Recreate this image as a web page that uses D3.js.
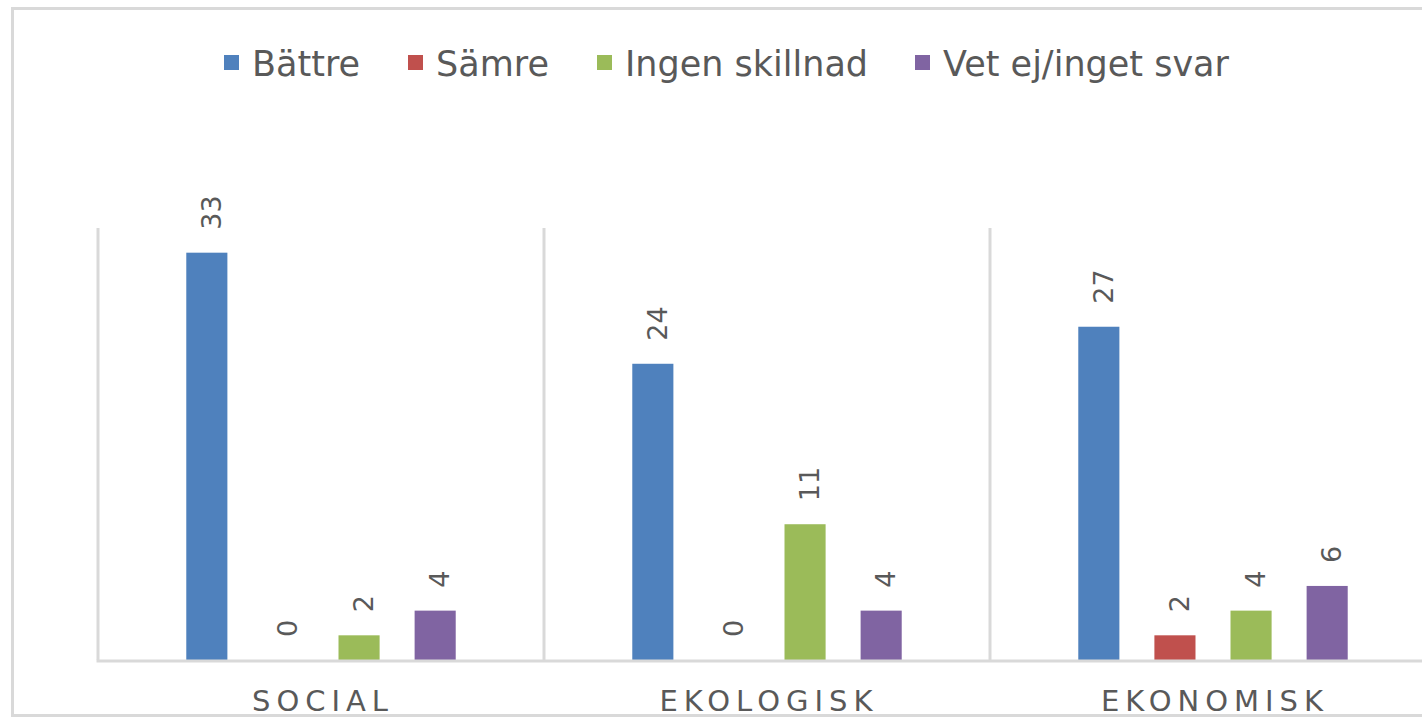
<!DOCTYPE html>
<html>
<head>
<meta charset="utf-8">
<script src="https://cdn.jsdelivr.net/npm/d3@7"></script>
<style>
  body { margin: 0; background: #fff; }
  svg { display: block; font-family: "DejaVu Sans", Verdana, sans-serif; }
</style>
</head>
<body>
<svg id="chart" width="1422" height="718"></svg>
<script>
// data
const categories = ['SOCIAL', 'EKOLOGISK', 'EKONOMISK'];
const seriesNames = ['Bättre', 'Sämre', 'Ingen skillnad', 'Vet ej/inget svar'];
const seriesColors = ['#4f81bd', '#c0504d', '#9bbb59', '#8064a2'];
const battre = [33, 24, 27];
const samre = [0, 0, 2];
const ingen = [2, 11, 4];
const vetEj = [4, 4, 6];
const seriesValues = [battre, samre, ingen, vetEj];

const svg = d3.select('#chart');
const gridColor = '#d9d9d9';
const textColor = '#595959';

// chart frame (runs off the right edge like the screenshot)
svg.append('rect')
    .attr('x', 12.5).attr('y', 8.5)
    .attr('width', 1440).attr('height', 707)
    .attr('fill', 'none')
    .attr('stroke', gridColor)
    .attr('stroke-width', 3);

const plotLeft = 98, plotRight = 1436, plotTop = 228, plotBottom = 660;

const x0 = d3.scaleBand()
    .domain(categories)
    .range([plotLeft, plotRight]);

const x1 = d3.scaleBand()
    .domain(seriesNames)
    .range([0, x0.bandwidth()])
    .paddingInner(0.46)
    .paddingOuter(1.16);

const y = d3.scaleLinear()
    .domain([0, 35])
    .range([plotBottom, plotTop]);

// vertical category separators
svg.append('g')
    .selectAll('line')
    .data(categories)
    .join('line')
    .attr('x1', d => x0(d)).attr('x2', d => x0(d))
    .attr('y1', y(35)).attr('y2', y(0))
    .attr('stroke', gridColor)
    .attr('stroke-width', 3);

// bars
const rows = [];
categories.forEach((c, ci) => {
  seriesNames.forEach((s, si) => {
    rows.push({ cat: c, series: s, value: seriesValues[si][ci], color: seriesColors[si] });
  });
});

svg.append('g')
    .selectAll('rect')
    .data(rows.filter(d => d.value > 0))
    .join('rect')
    .attr('x', d => x0(d.cat) + x1(d.series))
    .attr('y', d => y(d.value))
    .attr('width', x1.bandwidth())
    .attr('height', d => y(0) - y(d.value))
    .attr('fill', d => d.color);

// baseline
svg.append('line')
    .attr('x1', plotLeft - 1.5).attr('x2', 1422)
    .attr('y1', y(0) + 1).attr('y2', y(0) + 1)
    .attr('stroke', gridColor)
    .attr('stroke-width', 3);

// value labels (rotated)
svg.append('g')
    .selectAll('text')
    .data(rows)
    .join('text')
    .attr('transform', d => {
      const cx = x0(d.cat) + x1(d.series) + x1.bandwidth() / 2;
      return `translate(${cx + 14},${y(d.value) - 23}) rotate(-90)`;
    })
    .attr('fill', textColor)
    .attr('font-size', 27)
    .text(d => d.value);

// category axis labels
svg.append('g')
    .selectAll('text')
    .data(categories)
    .join('text')
    .attr('x', d => x0(d) + x0.bandwidth() / 2 + 2)
    .attr('y', 711)
    .attr('text-anchor', 'middle')
    .attr('fill', textColor)
    .attr('font-size', 29)
    .attr('letter-spacing', 6)
    .text(d => d);

// legend
const legendX = [224, 408, 597, 915];
const legend = svg.append('g')
    .selectAll('g')
    .data(seriesNames)
    .join('g')
    .attr('transform', (d, i) => `translate(${legendX[i]},0)`);

legend.append('rect')
    .attr('x', 0).attr('y', 55)
    .attr('width', 15).attr('height', 15)
    .attr('fill', (d, i) => seriesColors[i]);

legend.append('text')
    .attr('x', 28).attr('y', 76)
    .attr('fill', textColor)
    .attr('font-size', 35)
    .text(d => d);
</script>
</body>
</html>
